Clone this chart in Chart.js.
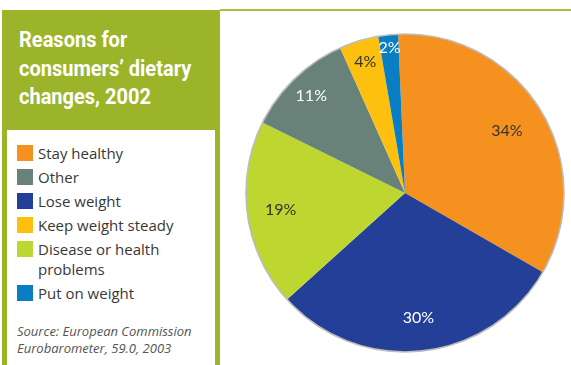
<!DOCTYPE html>
<html>
<head>
<meta charset="utf-8">
<script src="https://cdn.jsdelivr.net/npm/chart.js@4/dist/chart.umd.min.js"></script>
<style>
  body { margin: 0; width: 571px; height: 365px; position: relative; overflow: hidden; background: #fff; font-family: "Open Sans", sans-serif; }
  #panel { position: absolute; left: 2px; top: 10px; width: 218px; height: 355px; background: #9cb42a; }
  #rule { position: absolute; left: 220px; top: 9px; right: 0; height: 2px; background: #a9bf3e; }
  #title { position: absolute; left: 19px; top: 26px; color: #fff; font: bold 22px/28.5px Roboto, sans-serif; transform: scaleX(0.91); transform-origin: 0 0; white-space: nowrap; }
  #box { position: absolute; left: 7px; top: 130px; width: 208px; height: 235px; background: #fff; }
  #legend { position: absolute; left: 10px; top: 13px; width: 190px; }
  .item { display: flex; align-items: flex-start; margin-bottom: 4px; font-size: 15px; line-height: 20px; color: #383838; }
  .sw { flex: none; width: 16px; height: 16px; margin: 2px 5px 0 0; }
  #source { position: absolute; left: 10px; top: 193px; font-size: 13px; line-height: 17px; font-style: italic; color: #555; white-space: nowrap; }
  #pie { position: absolute; left: 244px; top: 32px; width: 322px; height: 322px; }
</style>
</head>
<body>
<div id="panel"></div>
<div id="rule"></div>
<div id="title">Reasons for<br>consumers’ dietary<br>changes, 2002</div>
<div id="box">
  <div id="legend"></div>
  <div id="source">Source: European Commission<br>Eurobarometer, 59.0, 2003</div>
</div>
<div id="pie"><canvas id="pieChart"></canvas></div>
<script>
// slices in drawing order, clockwise from the top
const labels = ['Stay healthy', 'Lose weight', 'Disease or health problems', 'Other', 'Keep weight steady', 'Put on weight'];
const shares = [34, 30, 19, 11, 4, 2];
const colors = ['#f5921f', '#233f97', '#bed630', '#68827a', '#fdc00f', '#0a7ec3'];
const textColors = ['#333', '#fff', '#333', '#fff', '#333', '#fff'];
// legend lists the reasons in a different order
const legendOrder = [0, 3, 1, 4, 2, 5];
// how far out (fraction of radius) each % label sits
const labelRadius = [0.75, 0.79, 0.79, 0.85, 0.86, 0.92];

const legend = document.getElementById('legend');
legendOrder.forEach(i => {
  const row = document.createElement('div');
  row.className = 'item';
  row.innerHTML = '<span class="sw" style="background:' + colors[i] + '"></span><span>' + labels[i] + '</span>';
  legend.appendChild(row);
});

// percent labels + grey rim
const pieExtras = {
  id: 'pieExtras',
  afterDatasetsDraw(chart) {
    const ctx = chart.ctx;
    const arcs = chart.getDatasetMeta(0).data;
    const a0 = arcs[0].getProps(['x', 'y', 'outerRadius'], true);
    ctx.save();
    ctx.beginPath();
    ctx.arc(a0.x, a0.y, a0.outerRadius, 0, Math.PI * 2);
    ctx.strokeStyle = '#bdbdbd';
    ctx.lineWidth = 1.6;
    ctx.stroke();

    ctx.font = '16px Lato, sans-serif';
    ctx.textAlign = 'center';
    ctx.textBaseline = 'middle';
    arcs.forEach((arc, i) => {
      const p = arc.getProps(['x', 'y', 'startAngle', 'endAngle', 'outerRadius'], true);
      const mid = (p.startAngle + p.endAngle) / 2;
      const r = p.outerRadius * labelRadius[i];
      ctx.fillStyle = textColors[i];
      ctx.fillText(shares[i] + '%', p.x + Math.cos(mid) * r, p.y + Math.sin(mid) * r);
    });
    ctx.restore();
  }
};

new Chart('pieChart', {
  type: 'pie',
  data: {
    labels: labels,
    datasets: [{
      data: shares,
      backgroundColor: colors,
      borderWidth: 0
    }]
  },
  options: {
    responsive: true,
    maintainAspectRatio: false,
    animation: false,
    rotation: -2.5,
    layout: { padding: 2 },
    plugins: { legend: { display: false }, tooltip: { enabled: false } },
    events: []
  },
  plugins: [pieExtras]
});
</script>
</body>
</html>
